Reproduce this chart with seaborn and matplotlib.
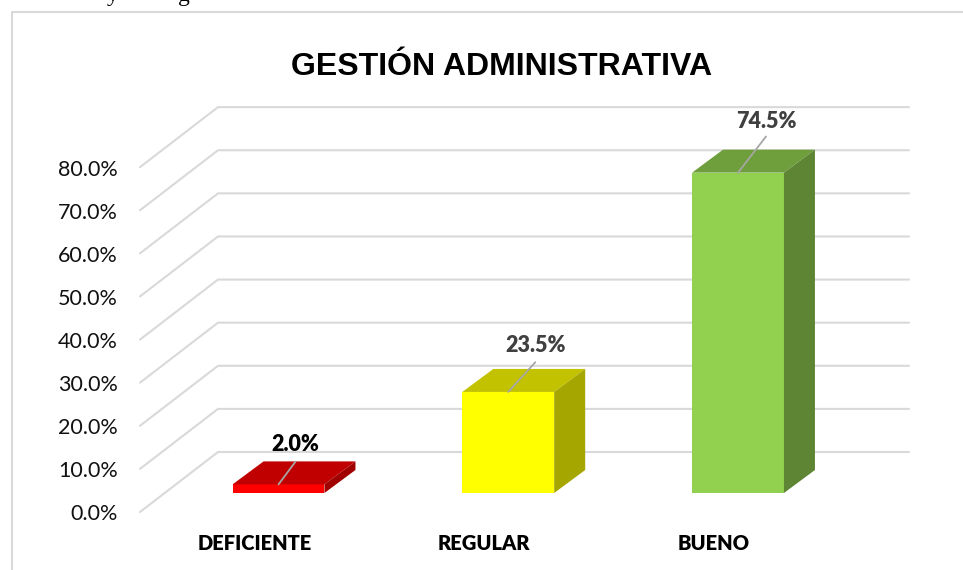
import matplotlib
matplotlib.use("Agg")
import matplotlib.pyplot as plt
from matplotlib.lines import Line2D
from matplotlib.patches import Polygon
import seaborn as sns
import pandas as pd

categories = ["DEFICIENTE", "REGULAR", "BUENO"]
values = [2.0, 23.5, 74.5]
front_colors = ["#ff0000", "#ffff00", "#92d050"]
top_colors = ["#c00000", "#c2c200", "#6f9e3c"]
side_colors = ["#a00000", "#a6a600", "#5e8533"]
label_colors = ["#000000", "#404040", "#404040"]
y_ticks = [0, 10, 20, 30, 40, 50, 60, 70, 80]
title = "GESTIÓN ADMINISTRATIVA"

W, H = 963, 570
PX_X = 229.75   # pixels per category
PX_Y = 4.3      # pixels per percentage point
X0, Y0 = 278.5, 493  # pixel of first bar centre / baseline
L, R, B, T = 140, 909, 512, 107
GRID = "#d9d9d9"

sns.set_theme(style="white")
fig = plt.figure(figsize=(W / 100, H / 100), dpi=100, facecolor="white")
ax = fig.add_axes([L / W, 1 - B / H, (R - L) / W, (B - T) / H])

df = pd.DataFrame({"cat": categories, "val": values})
sns.barplot(data=df, x="cat", y="val", hue="cat", order=categories, hue_order=categories,
            palette=front_colors, saturation=1, width=0.4, dodge=False, legend=False,
            ax=ax, zorder=3, linewidth=0)

ax.set_xlim((L - X0) / PX_X, (R - X0) / PX_X)
ax.set_ylim((Y0 - B) / PX_Y, (Y0 - T) / PX_Y)
for s in ax.spines.values():
    s.set_visible(False)
ax.set_facecolor("none")

# walls: back plane and oblique floor/side lines
front_dy = (Y0 - B) / PX_Y          # data offset of the front edge
back_dy = (Y0 - 452) / PX_Y         # data offset of the back wall
x_front = ax.get_xlim()[0]
x_back = (218 - X0) / PX_X
for v in y_ticks:
    ax.plot([x_front, x_back, ax.get_xlim()[1]],
            [v * 1.0025 + front_dy, v * 1.0025 + back_dy, v * 1.0025 + back_dy],
            color=GRID, lw=1.5, zorder=1, solid_joinstyle="miter", clip_on=False)

# ticks
ax.set_yticks([v + front_dy for v in y_ticks], [f"{v:.1f}%" for v in y_ticks])
ax.tick_params(axis="y", length=0, pad=15.8, labelsize=15.5, labelcolor="#111111")
for t in ax.get_yticklabels():
    t.set_fontfamily("Lato")
ax.set_xticks([i - 0.105 for i in range(3)], categories)
ax.tick_params(axis="x", length=0, pad=16, labelsize=14.5, labelcolor="#000000")
for t in ax.get_xticklabels():
    t.set_fontfamily("Lato")
    t.set_fontweight("heavy")
ax.set_xlabel("")
ax.set_ylabel("")

# 3-D faces and labels for each bar
dx, dy = 31 / PX_X, 23 / PX_Y
hw = 0.2
leader_x = [17 / PX_X, 27 / PX_X, 28 / PX_X]
leader_y = [5.3, 6.9, 8.4]
label_gap = [1.6, 1.5, 1.1]
for i, v in enumerate(values):
    ax.add_patch(Polygon([(i - hw, v), (i + hw, v), (i + hw + dx, v + dy), (i - hw + dx, v + dy)],
                         closed=True, fc=top_colors[i], ec="none", zorder=3))
    ax.add_patch(Polygon([(i + hw, 0), (i + hw + dx, dy), (i + hw + dx, v + dy), (i + hw, v)],
                         closed=True, fc=side_colors[i], ec="none", zorder=3))
    ax.plot([i, i + leader_x[i]], [v, v + leader_y[i]],
            color="#a6a6a6", lw=1.3, zorder=4, clip_on=False)
    ax.text(i + leader_x[i], v + leader_y[i] + label_gap[i], f"{v:.1f}%",
            ha="center", va="bottom", fontsize=15.5, fontweight="heavy",
            family="Lato", color=label_colors[i], zorder=5)

ax.set_title(title, x=(502 - L) / (R - L), y=(B - 75) / (B - T), va="baseline",
             fontsize=23, fontweight="bold", family="Liberation Sans", color="#000000", pad=0)

# outer chart frame, cut by the picture edge
fig.add_artist(Line2D([11.5 / W, 11.5 / W, 1], [0, 1 - 12 / H, 1 - 12 / H], color=GRID, lw=1.5))

# descenders of the line of text cut off above the chart
for px, ch in [(107, "y"), (178, "g")]:
    fig.text(px / W, 1 - 0.5 / H, ch, fontsize=17, family="Liberation Serif",
             ha="left", va="baseline", color="#000000")

fig.savefig("out.png", dpi=100, facecolor="white")
